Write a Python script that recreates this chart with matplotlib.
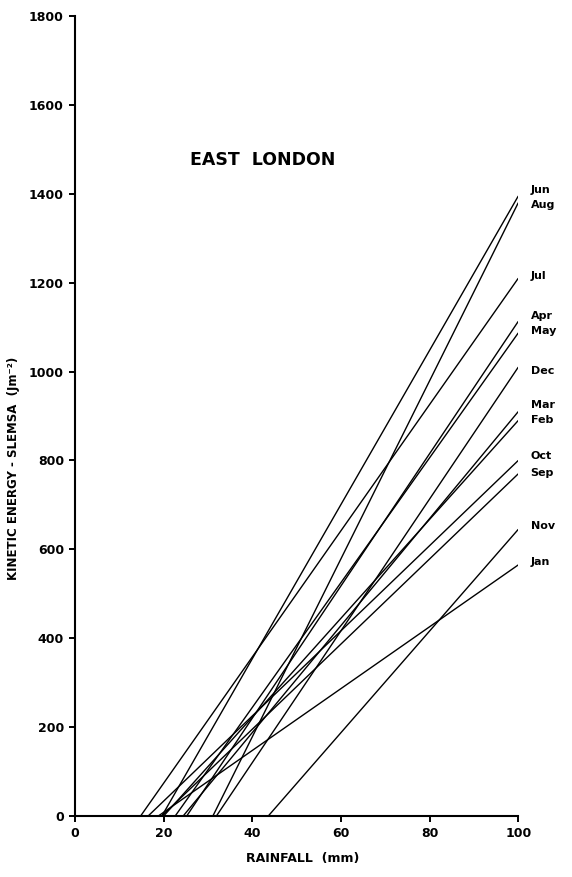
import matplotlib
matplotlib.use("Agg")
import matplotlib.pyplot as plt

# Monthly regression lines: rainfall (mm) at which kinetic energy starts,
# and kinetic energy (J m-2) reached at 100 mm of rainfall.
months = ["Jun", "Aug", "Jul", "Apr", "May", "Dec", "Mar", "Feb", "Oct", "Sep", "Nov", "Jan"]
start_rain = [19.6, 31.1, 14.8, 25.2, 22.6, 31.9, 24.4, 20.0, 16.5, 19.6, 43.6, 18.8]
energy_at_100 = [1395, 1380, 1210, 1113, 1087, 1010, 910, 890, 800, 770, 645, 565]

# vertical placement of the month names at the right-hand end
label_y = [1408, 1375, 1216, 1126, 1092, 1002, 925, 891, 810, 772, 652, 572]

x_ticks = [0, 20, 40, 60, 80, 100]
y_ticks = [0, 200, 400, 600, 800, 1000, 1200, 1400, 1600, 1800]

plt.rcParams["font.family"] = ["DejaVu Sans"]
plt.rcParams["font.weight"] = "bold"

fig = plt.figure(figsize=(5.72, 8.77), dpi=100)
ax = fig.add_axes([75 / 572, 61 / 877, 443.3 / 572, 800 / 877])

for x0, y1 in zip(start_rain, energy_at_100):
    ax.plot([0, x0, 100], [0, 0, y1], color="black", linewidth=1.0,
            solid_capstyle="butt")

for name, ly in zip(months, label_y):
    ax.text(102.8, ly, name, ha="left", va="center", fontsize=8,
            fontweight="bold", clip_on=False)

ax.set_xlim(0, 100)
ax.set_ylim(0, 1800)
ax.set_xticks(x_ticks)
ax.set_yticks(y_ticks)
ax.tick_params(axis="both", direction="out", length=4, width=1.4,
               labelsize=9, pad=4)
for lab in ax.get_xticklabels() + ax.get_yticklabels():
    lab.set_fontweight("bold")

for side in ("top", "right"):
    ax.spines[side].set_visible(False)
for side in ("left", "bottom"):
    ax.spines[side].set_linewidth(1.5)

ax.set_xlabel("RAINFALL  (mm)", fontsize=9, fontweight="bold")
ax.xaxis.set_label_coords(0.514, -0.045)
ax.set_ylabel("KINETIC ENERGY - SLEMSA  (Jm\u207b\u00b2)", fontsize=8.5,
              fontweight="bold")
ax.yaxis.set_label_coords(-0.125, 0.435)

ax.text(0.424, 0.82, "EAST  LONDON", transform=ax.transAxes, ha="center",
        va="center", fontsize=12.5, fontweight="bold")

fig.savefig("out.png", dpi=100, facecolor="white")
